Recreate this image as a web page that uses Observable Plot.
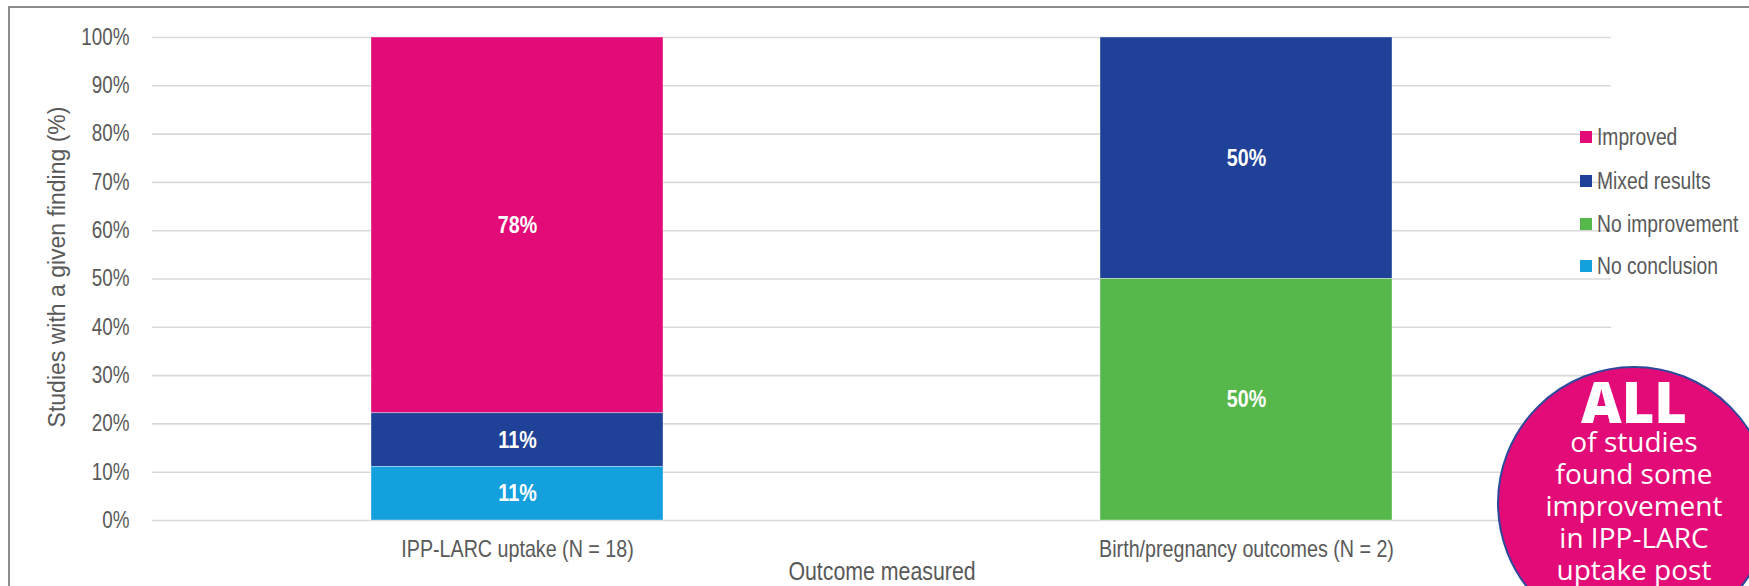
<!DOCTYPE html>
<html>
<head>
<meta charset="utf-8">
<script src="https://cdn.jsdelivr.net/npm/d3@7"></script>
<script src="https://cdn.jsdelivr.net/npm/@observablehq/plot@0.6"></script>
<style>
  html, body { margin: 0; padding: 0; background: #fff; overflow: hidden; }
  #wrap { position: relative; width: 1749px; height: 586px; overflow: hidden; }
  #wrap svg { position: absolute; left: 0; top: 0; }
  #frame { position: absolute; left: 8px; top: 6px; width: 1900px; height: 900px;
           border-top: 2px solid #8c8c8c; border-left: 2px solid #8c8c8c; }
  .legend { position: absolute; left: 1580px; top: 0; font-family: "Liberation Sans", Arial, sans-serif;
            font-size: 23.5px; color: #595959; }
  .legend .row { position: absolute; left: 0; height: 30px; display: flex; align-items: center; white-space: nowrap; }
  .legend .sw { width: 12px; height: 12px; margin-right: 5px; flex: none; }
  .legend .lbl { display: inline-block; transform: scaleX(0.82); transform-origin: left center; }
  #badge { position: absolute; left: 1497px; top: 366px; width: 270px; height: 270px; border-radius: 50%;
           background: #E20B77; border: 2px solid #2C4A9C; color: #fff; font-family: "Open Sans", sans-serif; }
  #badge .big { position: absolute; left: 0; width: 100%; text-align: center; top: 5px; font-size: 56px; font-weight: 800; line-height: 56px; }
  #badge .small { position: absolute; left: 0; width: 100%; text-align: center; top: 57px; font-size: 28px; line-height: 32px; }
</style>
</head>
<body>
<div id="wrap"></div>
<script>
// ---- data ----
const categories = ["IPP-LARC uptake (N = 18)", "Birth/pregnancy outcomes (N = 2)"];
const seriesNames = ["Improved", "Mixed results", "No improvement", "No conclusion"];
const seriesColors = ["#E20B77", "#1F4197", "#56B74A", "#149FDD"];
const improvedPct = [77.8, 0];
const mixedPct = [11.1, 50];
const noImprovementPct = [0, 50];
const noConclusionPct = [11.1, 0];
const yTicks = [0, 10, 20, 30, 40, 50, 60, 70, 80, 90, 100];
const yTitle = "Studies with a given finding (%)";
const xTitle = "Outcome measured";
const badgeBig = "ALL";
const badgeLines = ["of studies", "found some", "improvement", "in IPP-LARC", "uptake post"];

const SANS = '"Liberation Sans", Arial, sans-serif';
const NARROW_FACTOR = 0.82;

const seriesValues = [improvedPct, mixedPct, noImprovementPct, noConclusionPct];
const data = [];
seriesNames.forEach((s, i) => categories.forEach((c, j) => data.push({category: c, series: s, value: seriesValues[i][j]})));
const stackOrder = [...seriesNames].reverse();

const chart = Plot.plot({
  width: 1749,
  height: 586,
  marginTop: 37,
  marginBottom: 66,
  marginLeft: 152,
  marginRight: 138,
  style: {fontFamily: SANS, color: "#595959", background: "transparent", overflow: "visible"},
  x: {domain: categories, paddingInner: 0.6, paddingOuter: 0.3, label: null},
  y: {domain: [0, 100], label: null},
  color: {domain: seriesNames, range: seriesColors},
  marks: [
    Plot.gridY(yTicks, {stroke: "#d9d9d9", strokeOpacity: 1, strokeWidth: 1.6}),
    Plot.axisY(yTicks, {tickSize: 0, tickPadding: 23, tickFormat: d => d + "%", fontSize: 23, label: null}),
    Plot.axisX({tickSize: 0, tickPadding: 19, fontSize: 24, label: null}),
    Plot.barY(data, Plot.stackY({x: "category", y: "value", fill: "series", order: stackOrder,
      stroke: "white", strokeOpacity: 0.45, strokeWidth: 0.8})),
    Plot.text(data.filter(d => d.value > 0), Plot.stackY({x: "category", y: "value", z: "series", order: stackOrder,
      text: d => Math.round(d.value) + "%", fill: "white", fontWeight: "bold", fontSize: 24})),
    Plot.text([yTitle], {text: d => d, frameAnchor: "left", textAnchor: "middle", rotate: -90, dx: -95, dy: -12,
      fontSize: 23, fontFamily: SANS, fill: "#595959", lineAnchor: "middle"}),
    Plot.text([xTitle], {text: d => d, frameAnchor: "bottom", dy: 51, fontSize: 26,
      fill: "#595959", lineAnchor: "middle"})
  ]
});

const wrap = document.getElementById("wrap");
const frame = document.createElement("div");
frame.id = "frame";
wrap.appendChild(frame);
wrap.appendChild(chart);

// condense the Arial-Narrow-like texts (all but the y title, which sets its own font-family)
chart.querySelectorAll("text").forEach(t => {
  if (t.closest("g[font-family]")) return;
  const len = t.getComputedTextLength();
  if (len > 0) {
    t.setAttribute("textLength", (len * NARROW_FACTOR).toFixed(2));
    t.setAttribute("lengthAdjust", "spacingAndGlyphs");
  }
});

// legend
const legend = document.createElement("div");
legend.className = "legend";
const legendCenters = [137, 181, 224, 266];
seriesNames.forEach((s, i) => {
  const row = document.createElement("div");
  row.className = "row";
  row.style.top = (legendCenters[i] - 15) + "px";
  const sw = document.createElement("span");
  sw.className = "sw";
  sw.style.background = seriesColors[i];
  const t = document.createElement("span");
  t.className = "lbl";
  t.textContent = s;
  row.appendChild(sw);
  row.appendChild(t);
  legend.appendChild(row);
});
wrap.appendChild(legend);

// badge annotation
const badge = document.createElement("div");
badge.id = "badge";
const big = document.createElement("div");
big.className = "big";
big.textContent = badgeBig;
const small = document.createElement("div");
small.className = "small";
small.innerHTML = badgeLines.join("<br>");
badge.appendChild(big);
badge.appendChild(small);
wrap.appendChild(badge);
</script>
</body>
</html>
